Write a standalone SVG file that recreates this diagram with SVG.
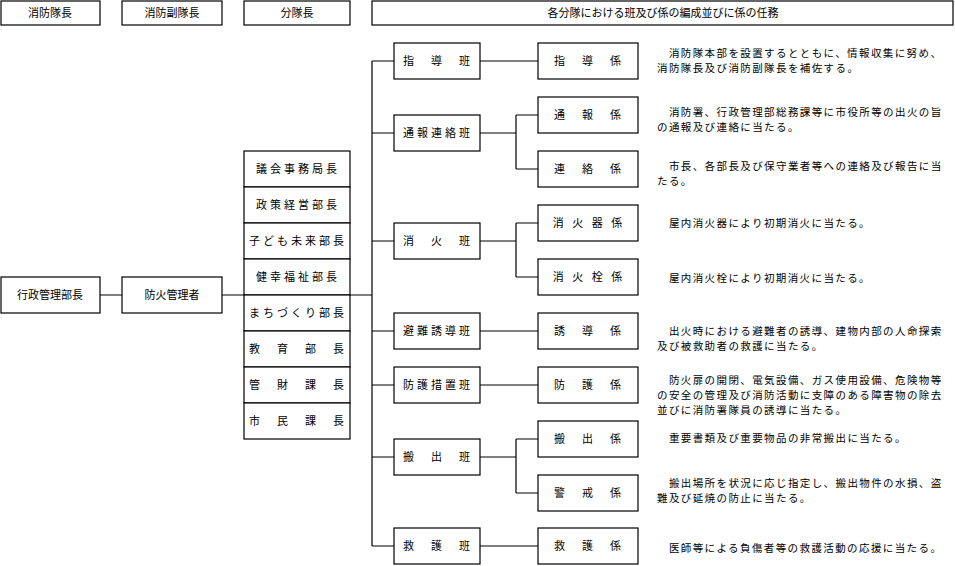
<svg xmlns="http://www.w3.org/2000/svg" width="955" height="566" viewBox="0 0 955 566">
<style>
rect{fill:#fff;stroke:#000;stroke-width:1.2}
text{font-family:"Noto Sans CJK JP","Noto Sans CJK SC",sans-serif;font-size:11px;fill:#000}
.c{text-anchor:middle}
.d text{font-size:10.5px;letter-spacing:1.4px}
#conn path{fill:none;stroke:#000;stroke-width:1.2}
</style>
<rect x="0" y="0" width="955" height="566" style="stroke:none"/>
<g id="h1"><rect x="1" y="1" width="99" height="24"/><text class="c" x="50" y="17">消防隊長</text></g>
<g id="h2"><rect x="122" y="1" width="100" height="24"/><text class="c" x="172" y="17">消防副隊長</text></g>
<g id="h3"><rect x="244" y="1" width="106" height="24"/><text class="c" x="297" y="17">分隊長</text></g>
<g id="h4"><rect x="372" y="1" width="581" height="24"/><text class="c" x="663" y="17">各分隊における班及び係の編成並びに係の任務</text></g>
<g id="conn">
<path d="M100 295H122M222 295H372M372 61V546"/>
<path d="M372 61H394M372 133H394M372 241H394M372 331H394M372 385H394M372 457H394M372 546H394"/>
<path d="M480 61H538M480 331H538M480 385H538M480 546H538"/>
<path d="M480 133H516M516 115V169M516 115H538M516 169H538"/>
<path d="M480 241H516M516 223V277M516 223H538M516 277H538"/>
<path d="M480 457H516M516 439V493M516 439H538M516 493H538"/>
</g>
<g id="n1"><rect x="1" y="277" width="99" height="36"/><text class="c" x="50" y="299">行政管理部長</text></g>
<g id="n2"><rect x="122" y="277" width="100" height="36"/><text class="c" x="172" y="299">防火管理者</text></g>
<g id="bucho" style="letter-spacing:3px">
<rect x="244" y="151" width="106" height="36"/><text class="c" x="298" y="173">議会事務局長</text>
<rect x="244" y="187" width="106" height="36"/><text class="c" x="298" y="209">政策経営部長</text>
<rect x="244" y="223" width="106" height="36"/><text class="c" x="298" y="245">子ども未来部長</text>
<rect x="244" y="259" width="106" height="36"/><text class="c" x="298" y="281">健幸福祉部長</text>
<rect x="244" y="295" width="106" height="36"/><text class="c" x="298" y="317">まちづくり部長</text>
<rect x="244" y="331" width="106" height="36"/><text class="c" x="298" y="353">教　育　部　長</text>
<rect x="244" y="367" width="106" height="36"/><text class="c" x="298" y="389">管　財　課　長</text>
<rect x="244" y="403" width="106" height="36"/><text class="c" x="298" y="425">市　民　課　長</text>
</g>
<g id="han" style="letter-spacing:3px">
<rect x="394" y="43" width="86" height="36"/><text class="c" x="438" y="65">指　導　班</text>
<rect x="394" y="115" width="86" height="36"/><text class="c" x="438" y="137">通報連絡班</text>
<rect x="394" y="223" width="86" height="36"/><text class="c" x="438" y="245">消　火　班</text>
<rect x="394" y="313" width="86" height="36"/><text class="c" x="438" y="335">避難誘導班</text>
<rect x="394" y="367" width="86" height="36"/><text class="c" x="438" y="389">防護措置班</text>
<rect x="394" y="439" width="86" height="36"/><text class="c" x="438" y="461">搬　出　班</text>
<rect x="394" y="528" width="86" height="36"/><text class="c" x="438" y="550">救　護　班</text>
</g>
<g id="kakari" style="letter-spacing:3px">
<rect x="538" y="43" width="100" height="36"/><text class="c" x="589" y="65">指　導　係</text>
<rect x="538" y="97" width="100" height="36"/><text class="c" x="589" y="119">通　報　係</text>
<rect x="538" y="151" width="100" height="36"/><text class="c" x="589" y="173">連　絡　係</text>
<rect x="538" y="205" width="100" height="36"/><text class="c" x="589" y="227">消 火 器 係</text>
<rect x="538" y="259" width="100" height="36"/><text class="c" x="589" y="281">消 火 栓 係</text>
<rect x="538" y="313" width="100" height="36"/><text class="c" x="589" y="335">誘　導　係</text>
<rect x="538" y="367" width="100" height="36"/><text class="c" x="589" y="389">防　護　係</text>
<rect x="538" y="421" width="100" height="36"/><text class="c" x="589" y="443">搬　出　係</text>
<rect x="538" y="475" width="100" height="36"/><text class="c" x="589" y="497">警　戒　係</text>
<rect x="538" y="528" width="100" height="36"/><text class="c" x="589" y="550">救　護　係</text>
</g>
<g id="desc" class="d">
<text x="657" y="57">　消防隊本部を設置するとともに、情報収集に努め、</text>
<text x="657" y="72">消防隊長及び消防副隊長を補佐する。</text>
<text x="657" y="116">　消防署、行政管理部総務課等に市役所等の出火の旨</text>
<text x="657" y="131">の通報及び連絡に当たる。</text>
<text x="657" y="170">　市長、各部長及び保守業者等への連絡及び報告に当</text>
<text x="657" y="185">たる。</text>
<text x="657" y="227">　屋内消火器により初期消火に当たる。</text>
<text x="657" y="282">　屋内消火栓により初期消火に当たる。</text>
<text x="657" y="335">　出火時における避難者の誘導、建物内部の人命探索</text>
<text x="657" y="350">及び被救助者の救護に当たる。</text>
<text x="657" y="384">　防火扉の開閉、電気設備、ガス使用設備、危険物等</text>
<text x="657" y="399">の安全の管理及び消防活動に支障のある障害物の除去</text>
<text x="657" y="414">並びに消防署隊員の誘導に当たる。</text>
<text x="657" y="442">　重要書類及び重要物品の非常搬出に当たる。</text>
<text x="657" y="487">　搬出場所を状況に応じ指定し、搬出物件の水損、盗</text>
<text x="657" y="502">難及び延焼の防止に当たる。</text>
<text x="657" y="552">　医師等による負傷者等の救護活動の応援に当たる。</text>
</g>
</svg>
